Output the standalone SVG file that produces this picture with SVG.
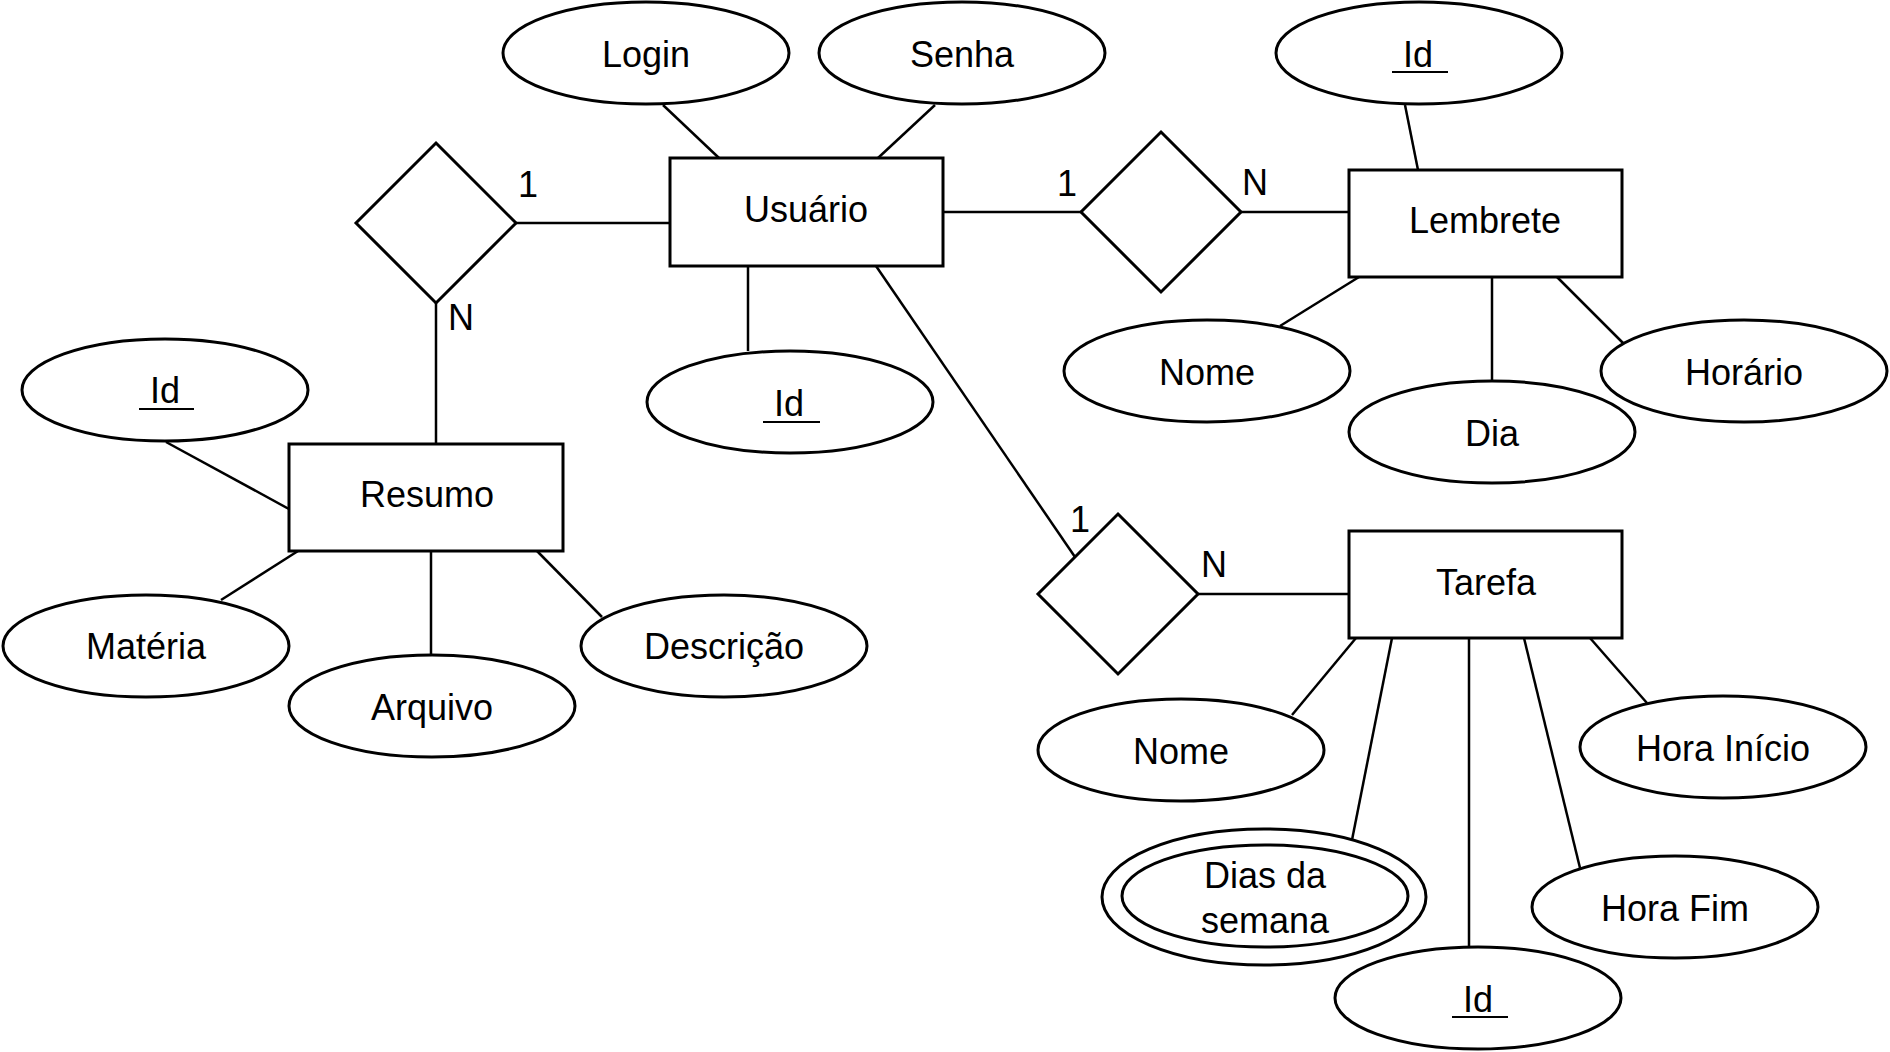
<svg xmlns="http://www.w3.org/2000/svg" width="1890" height="1052" viewBox="0 0 1890 1052">
<style>
.shape{fill:#fff;stroke:#000;stroke-width:3}
.ln{stroke:#000;stroke-width:2.5;fill:none}
.ul{stroke:#000;stroke-width:2}
text{font-family:"Liberation Sans",Arial,sans-serif;font-size:36px;fill:#000;text-anchor:middle}
</style>
<rect width="1890" height="1052" fill="#fff"/>
<g id="connectors">
<line class="ln" x1="663" y1="105" x2="719" y2="158"/>
<line class="ln" x1="935" y1="105" x2="878" y2="158"/>
<line class="ln" x1="516" y1="223" x2="670" y2="223"/>
<line class="ln" x1="748" y1="266" x2="748" y2="351"/>
<line class="ln" x1="876" y1="266" x2="1075" y2="557"/>
<line class="ln" x1="943" y1="212" x2="1081" y2="212"/>
<line class="ln" x1="1241" y1="212" x2="1349" y2="212"/>
<line class="ln" x1="1405" y1="105" x2="1418" y2="170"/>
<line class="ln" x1="1280" y1="326" x2="1359" y2="277"/>
<line class="ln" x1="1492" y1="277" x2="1492" y2="381"/>
<line class="ln" x1="1557" y1="277" x2="1623" y2="343"/>
<line class="ln" x1="436" y1="303" x2="436" y2="444"/>
<line class="ln" x1="166" y1="442" x2="289" y2="509"/>
<line class="ln" x1="221" y1="600" x2="298" y2="551"/>
<line class="ln" x1="431" y1="551" x2="431" y2="655"/>
<line class="ln" x1="537" y1="551" x2="602" y2="617"/>
<line class="ln" x1="1198" y1="594" x2="1349" y2="594"/>
<line class="ln" x1="1356" y1="638" x2="1292" y2="715"/>
<line class="ln" x1="1392" y1="638" x2="1352" y2="840"/>
<line class="ln" x1="1469" y1="638" x2="1469" y2="947"/>
<line class="ln" x1="1524" y1="638" x2="1580" y2="868"/>
<line class="ln" x1="1590" y1="638" x2="1647" y2="703"/>
</g>
<g id="usuario"><rect class="shape" x="670" y="158" width="273" height="108"/><text x="806" y="222">Usuário</text></g>
<g id="lembrete"><rect class="shape" x="1349" y="170" width="273" height="107"/><text x="1485" y="233">Lembrete</text></g>
<g id="resumo"><rect class="shape" x="289" y="444" width="274" height="107"/><text x="427" y="507">Resumo</text></g>
<g id="tarefa"><rect class="shape" x="1349" y="531" width="273" height="107"/><text x="1486" y="595">Tarefa</text></g>
<g id="rel-resumo"><polygon class="shape" points="436,143 516,223 436,303 356,223"/><text x="528" y="197">1</text><text x="461" y="330">N</text></g>
<g id="rel-lembrete"><polygon class="shape" points="1161,132 1241,212 1161,292 1081,212"/><text x="1067" y="196">1</text><text x="1255" y="195">N</text></g>
<g id="rel-tarefa"><polygon class="shape" points="1118,514 1198,594 1118,674 1038,594"/><text x="1080" y="532">1</text><text x="1214" y="577">N</text></g>
<g id="login"><ellipse class="shape" cx="646" cy="53" rx="143" ry="51"/><text x="646" y="67">Login</text></g>
<g id="senha"><ellipse class="shape" cx="962" cy="53" rx="143" ry="51"/><text x="962" y="67">Senha</text></g>
<g id="usuario-id"><ellipse class="shape" cx="790" cy="402" rx="143" ry="51"/><text x="789" y="416">Id</text><line class="ul" x1="763" y1="422" x2="820" y2="422"/></g>
<g id="lembrete-id"><ellipse class="shape" cx="1419" cy="53" rx="143" ry="51"/><text x="1418" y="67">Id</text><line class="ul" x1="1392" y1="72" x2="1448" y2="72"/></g>
<g id="lembrete-nome"><ellipse class="shape" cx="1207" cy="371" rx="143" ry="51"/><text x="1207" y="385">Nome</text></g>
<g id="lembrete-dia"><ellipse class="shape" cx="1492" cy="432" rx="143" ry="51"/><text x="1492" y="446">Dia</text></g>
<g id="lembrete-horario"><ellipse class="shape" cx="1744" cy="371" rx="143" ry="51"/><text x="1744" y="385">Horário</text></g>
<g id="resumo-id"><ellipse class="shape" cx="165" cy="390" rx="143" ry="51"/><text x="165" y="403">Id</text><line class="ul" x1="139" y1="409" x2="194" y2="409"/></g>
<g id="resumo-materia"><ellipse class="shape" cx="146" cy="646" rx="143" ry="51"/><text x="146" y="659">Matéria</text></g>
<g id="resumo-arquivo"><ellipse class="shape" cx="432" cy="706" rx="143" ry="51"/><text x="432" y="720">Arquivo</text></g>
<g id="resumo-descricao"><ellipse class="shape" cx="724" cy="646" rx="143" ry="51"/><text x="724" y="659">Descrição</text></g>
<g id="tarefa-nome"><ellipse class="shape" cx="1181" cy="750" rx="143" ry="51"/><text x="1181" y="764">Nome</text></g>
<g id="tarefa-dias"><ellipse class="shape" cx="1264" cy="897" rx="162" ry="68"/><ellipse class="shape" cx="1265" cy="896" rx="143" ry="51"/><text x="1265" y="888">Dias da</text><text x="1265" y="933">semana</text></g>
<g id="tarefa-id"><ellipse class="shape" cx="1478" cy="998" rx="143" ry="51"/><text x="1478" y="1012">Id</text><line class="ul" x1="1452" y1="1017" x2="1508" y2="1017"/></g>
<g id="tarefa-horafim"><ellipse class="shape" cx="1675" cy="907" rx="143" ry="51"/><text x="1675" y="921">Hora Fim</text></g>
<g id="tarefa-horainicio"><ellipse class="shape" cx="1723" cy="747" rx="143" ry="51"/><text x="1723" y="761">Hora Início</text></g>
</svg>
